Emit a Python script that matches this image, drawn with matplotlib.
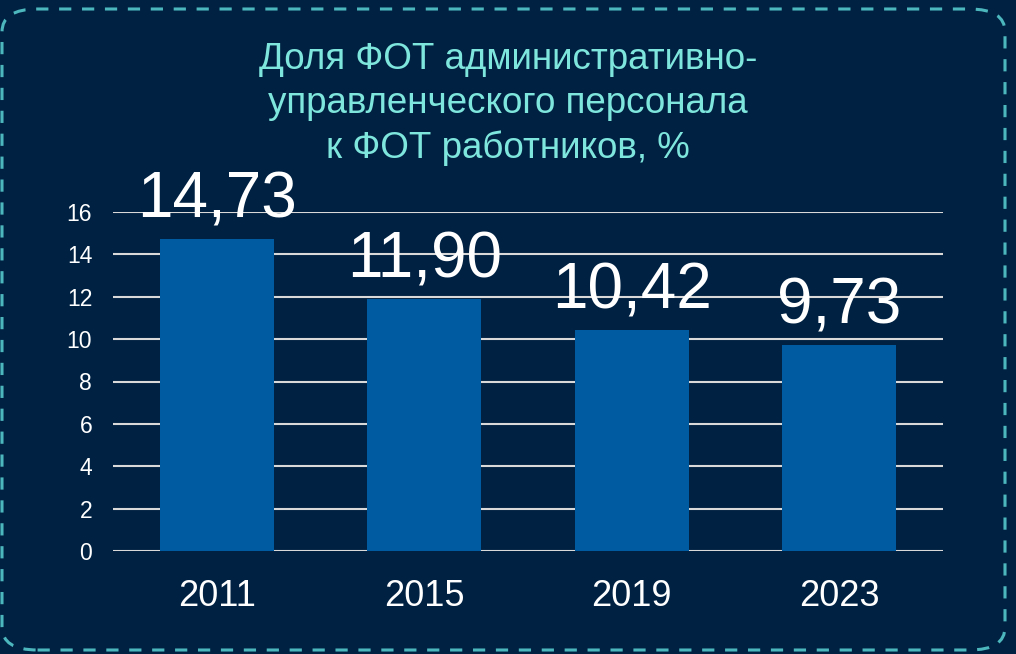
import matplotlib
matplotlib.use("Agg")
import matplotlib.pyplot as plt
from matplotlib.patches import FancyBboxPatch

years = ["2011", "2015", "2019", "2023"]
values = [14.73, 11.90, 10.42, 9.73]
labels = ["14,73", "11,90", "10,42", "9,73"]
yticks = [0, 2, 4, 6, 8, 10, 12, 14, 16]

BG = "#002142"
BAR = "#005BA1"
TEAL = "#4DB7BE"
TITLE = "#7FE6DD"

plt.rcParams["font.family"] = ["Liberation Sans", "DejaVu Sans"]

fig = plt.figure(figsize=(10.16, 6.54), dpi=100)
fig.patch.set_facecolor(BG)

# dashed rounded frame
frame = FancyBboxPatch((2 / 1016, 4 / 654), 1003 / 1016, 641 / 654,
                       boxstyle="round,pad=0,rounding_size=0.035",
                       transform=fig.transFigure, fill=False,
                       edgecolor=TEAL, lw=2.2, ls=(0, (4, 3.5)))
fig.patches.append(frame)

ax = fig.add_axes([113 / 1016, 1 - 551 / 654, 830 / 1016, 339 / 654])
ax.set_facecolor(BG)
x = range(len(years))
ax.bar(x, values, width=0.55, color=BAR, zorder=3)
ax.set_xlim(-0.5, 3.5)
ax.set_ylim(0, 16)
ax.set_yticks(yticks)
ax.yaxis.grid(True, color="#D9D9D9", lw=1.5, zorder=1)
ax.set_axisbelow(True)
for s in ax.spines.values():
    s.set_visible(False)
ax.tick_params(axis="y", length=0, pad=15, labelsize=16.5, labelcolor="white")
ax.tick_params(axis="x", length=0, pad=20, labelsize=26, labelcolor="white")
ax.set_xticks(list(x))
ax.set_xticklabels(years)

for i, (v, t) in enumerate(zip(values, labels)):
    ax.annotate(t, (i, v), xytext=(0, 6), textcoords="offset points",
                ha="center", va="bottom", fontsize=46, color="white", zorder=5)

fig.text(0.5, 1 - 104 / 654,
         "Доля ФОТ административно-\nуправленческого персонала\nк ФОТ работников, %",
         ha="center", va="center", fontsize=26.5, color=TITLE, linespacing=1.33)

fig.savefig("out.png", dpi=100, facecolor=BG)
